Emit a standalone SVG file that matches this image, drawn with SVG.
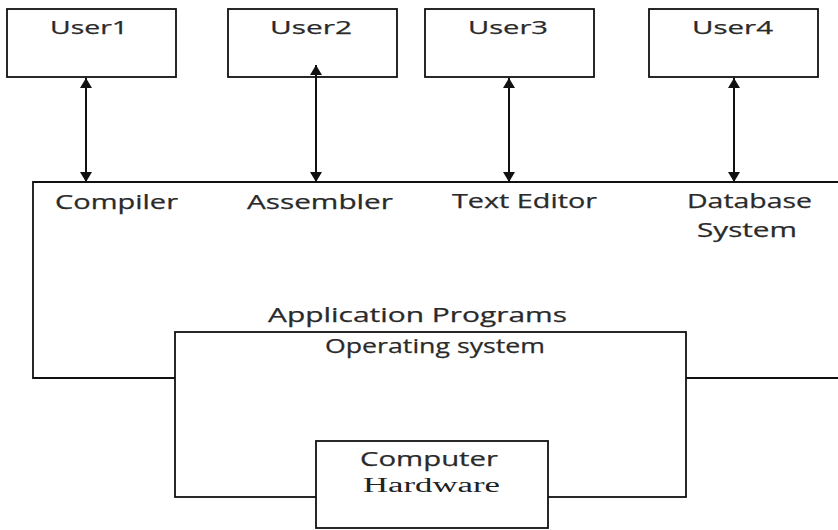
<svg xmlns="http://www.w3.org/2000/svg" width="838" height="530" viewBox="0 0 838 530">
<style>
.box{fill:#fff;stroke:#111;stroke-width:1.8}
.ln{fill:none;stroke:#111;stroke-width:1.8}
.t{font-family:"Open Sans","Liberation Sans",sans-serif;font-size:20px;fill:#2a2a2a;stroke:#2a2a2a;stroke-width:0.25}
.u{font-size:19px}
.s{font-family:"Liberation Serif",serif;font-size:20px;fill:#222}
.c{stroke:#111;stroke-width:2;marker-start:url(#ah);marker-end:url(#ah)}
</style>
<defs>
<marker id="ah" viewBox="0 0 10 12" refX="10" refY="6" markerWidth="10" markerHeight="12" markerUnits="userSpaceOnUse" orient="auto-start-reverse">
<path d="M0,0 L10,6 L0,12 Z" fill="#111"/>
</marker>
</defs>
<rect width="838" height="530" fill="#fff"/>
<g id="app">
<path class="ln" d="M838,182 H33 V378 H175 M686,378 H838"/>
<text class="t" x="55" y="209" textLength="123" lengthAdjust="spacingAndGlyphs">Compiler</text>
<text class="t" x="247" y="209" textLength="146" lengthAdjust="spacingAndGlyphs">Assembler</text>
<text class="t" x="452" y="208" textLength="145" lengthAdjust="spacingAndGlyphs">Text Editor</text>
<text class="t" x="687" y="208" textLength="125" lengthAdjust="spacingAndGlyphs">Database</text>
<text class="t" x="697" y="237" textLength="100" lengthAdjust="spacingAndGlyphs">System</text>
<text class="t" x="268" y="322" textLength="299" lengthAdjust="spacingAndGlyphs">Application Programs</text>
</g>
<g id="os">
<rect class="box" x="175" y="332" width="511" height="165"/>
<text class="t" x="325" y="353" textLength="220" lengthAdjust="spacingAndGlyphs">Operating system</text>
</g>
<g id="hw">
<rect class="box" x="316" y="441" width="232" height="87"/>
<text class="t" x="360" y="466" textLength="138" lengthAdjust="spacingAndGlyphs">Computer</text>
<text class="s" x="363" y="492" textLength="137" lengthAdjust="spacingAndGlyphs">Hardware</text>
</g>
<g id="user1">
<rect class="box" x="7" y="9" width="169" height="68"/>
<text class="t u" x="50" y="34" textLength="78" lengthAdjust="spacingAndGlyphs">User1</text>
</g>
<g id="user2">
<rect class="box" x="228" y="9" width="169" height="68"/>
<text class="t u" x="270" y="34" textLength="82" lengthAdjust="spacingAndGlyphs">User2</text>
</g>
<g id="user3">
<rect class="box" x="425" y="9" width="169" height="68"/>
<text class="t u" x="468" y="34" textLength="80" lengthAdjust="spacingAndGlyphs">User3</text>
</g>
<g id="user4">
<rect class="box" x="649" y="9" width="169" height="68"/>
<text class="t u" x="692" y="34" textLength="81" lengthAdjust="spacingAndGlyphs">User4</text>
</g>
<g id="connectors">
<line class="c" x1="86" y1="78" x2="86" y2="182"/>
<line class="c" x1="316" y1="65" x2="316" y2="182"/>
<line class="c" x1="509" y1="78" x2="509" y2="182"/>
<line class="c" x1="734" y1="78" x2="734" y2="182"/>
</g>
</svg>
